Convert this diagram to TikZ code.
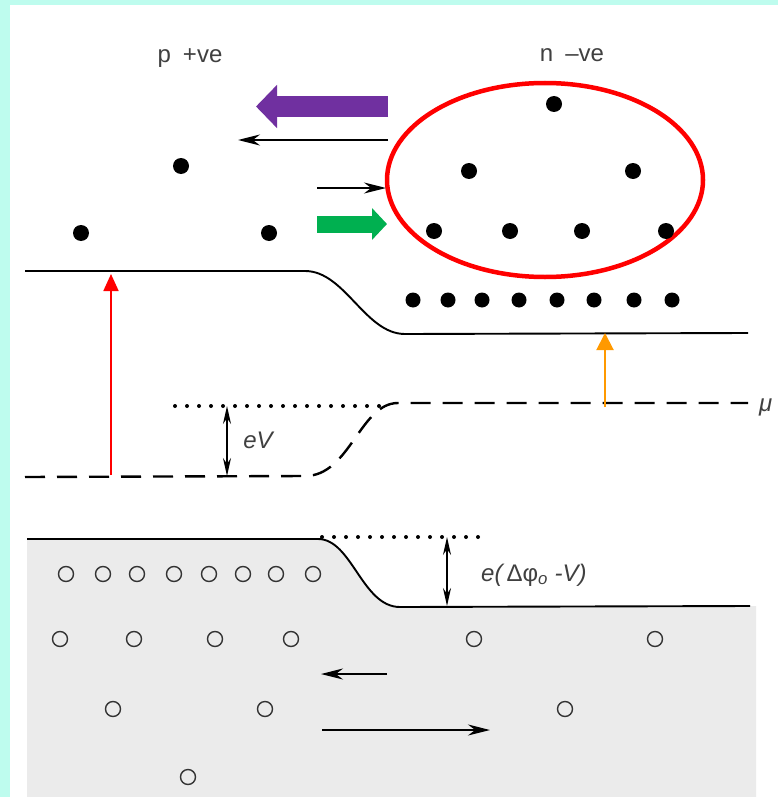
\documentclass[tikz,border=0pt]{standalone}
\usepackage{fontspec}
\setmainfont{Liberation Sans}
\usetikzlibrary{arrows.meta,shapes.geometric}
\definecolor{bgcyan}{RGB}{190,252,238}
\definecolor{arrowpurple}{RGB}{112,48,160}
\definecolor{arrowgreen}{RGB}{0,176,80}
\definecolor{levelorange}{RGB}{255,153,0}
\tikzset{
 electron/.style={circle,fill=black,inner sep=0pt,minimum size=16pt},
 hole/.style={circle,draw=black!80,line width=1.4pt,inner sep=0pt,minimum size=15pt},
 band/.style={line width=1.9pt},
 fermi/.style={line width=2.4pt,dash pattern=on 20pt off 12pt},
 dotline/.style={line width=4pt,line cap=round,dash pattern=on 0pt off 12pt},
 flow/.style={line width=1.8pt,-{Stealth[length=22pt,width=11pt]}},
 gap/.style={line width=1.8pt,{Stealth[length=18pt,width=8pt]}-{Stealth[length=18pt,width=8pt]}},
 lab/.style={font=\fontsize{24}{28}\selectfont,text=black!75,inner sep=1pt},
}
\begin{document}
\begin{tikzpicture}[x=1pt,y=-1pt]
\useasboundingbox (0,0) rectangle (778,797);
\fill[bgcyan] (0,0) rectangle (778,797);
\fill[white] (10,5) rectangle (778,797);
% shaded valence side
\fill[black!8] (27,539) -- (318,539) .. controls (352,539) and (362,607) .. (400,607) -- (756,606) -- (756,797) -- (27,797) -- cycle;
% bands and levels
\draw[band] (25,271) -- (305,271) .. controls (345,271) and (365,334) .. (405,334) -- (748,333);
\draw[band] (27,539) -- (318,539) .. controls (352,539) and (362,607) .. (400,607) -- (750,606);
\draw[fermi] (25,477) -- (305,476) .. controls (350,476) and (360,403) .. (398,403) -- (748,403);
\draw[dotline] (175,406) -- (390,406);
\draw[dotline] (322,537) -- (487,537);
% labels
\node[lab] (pside) at (190,58) {p\enspace+ve};
\node[lab] (nside) at (572,55) {n\enspace–ve};
\node[lab] (eV) at (258,440) {\itshape eV};
\node[lab,anchor=west] (barrier) at (480,575) {\itshape e(\,{\upshape Δφ}\textsubscript{o} -V)};
\node[lab,anchor=west] (mu) at (758,407) {\itshape μ};
% carriers
\node[draw=red,line width=4.5pt,ellipse,minimum width=316pt,minimum height=194pt,inner sep=0pt] (cluster) at (545,180) {};
\foreach \x/\y [count=\i] in {181/166,81/233,269/233}{
 \node[electron] (pe\i) at (\x,\y) {};
}
\foreach \x/\y [count=\i] in {554/104,469/171,633/171,434/231,510/231,582/231,666/231}{
 \node[electron] (ne\i) at (\x,\y) {};
}
\foreach \x [count=\i] in {413,448,482,519,557,594,634,672}{
 \node[electron,minimum size=15pt] (nb\i) at (\x,300) {};
}
\foreach \x [count=\i] in {66,103,137,174,209,243,276,313}{
 \node[hole] (pb\i) at (\x,574) {};
}
\foreach \x/\y [count=\i] in {60/639,134/639,215/639,291/639,474/639,655/639,113/709,265/709,565/709,188/777}{
 \node[hole] (h\i) at (\x,\y) {};
}
% arrows
\coordinate (purpleS) at (388,106.5); \coordinate (purpleE) at (256,106.5);
\coordinate (greenS) at (317,224); \coordinate (greenE) at (387,224);
\coordinate (revS) at (388,140); \coordinate (revE) at (238,140);
\coordinate (fwdS) at (317,188); \coordinate (fwdE) at (386,188);
\coordinate (hrevS) at (387,674); \coordinate (hrevE) at (321,674);
\coordinate (hfwdS) at (322,730); \coordinate (hfwdE) at (490,730);
\coordinate (redS) at (111,475); \coordinate (redE) at (111,274);
\coordinate (orangeS) at (605,407); \coordinate (orangeE) at (605,333);
\coordinate (eVtop) at (227,406); \coordinate (eVbot) at (227,476);
\coordinate (barrtop) at (447,537); \coordinate (barrbot) at (447,606);
\draw[arrowpurple,line width=21pt,-{Triangle[length=21pt,width=42pt]}] (purpleS) -- (purpleE);
\draw[arrowgreen,line width=17pt,-{Triangle[length=15pt,width=31pt]}] (greenS) -- (greenE);
\draw[flow] (revS) -- (revE);
\draw[flow] (fwdS) -- (fwdE);
\draw[flow] (hrevS) -- (hrevE);
\draw[flow] (hfwdS) -- (hfwdE);
\draw[red,line width=1.8pt,-{Triangle[length=17pt,width=15pt]}] (redS) -- (redE);
\draw[levelorange,line width=2pt,-{Triangle[length=17pt,width=17pt]}] (orangeS) -- (orangeE);
\draw[gap] (eVtop) -- (eVbot);
\draw[gap] (barrtop) -- (barrbot);
\end{tikzpicture}
\end{document}
